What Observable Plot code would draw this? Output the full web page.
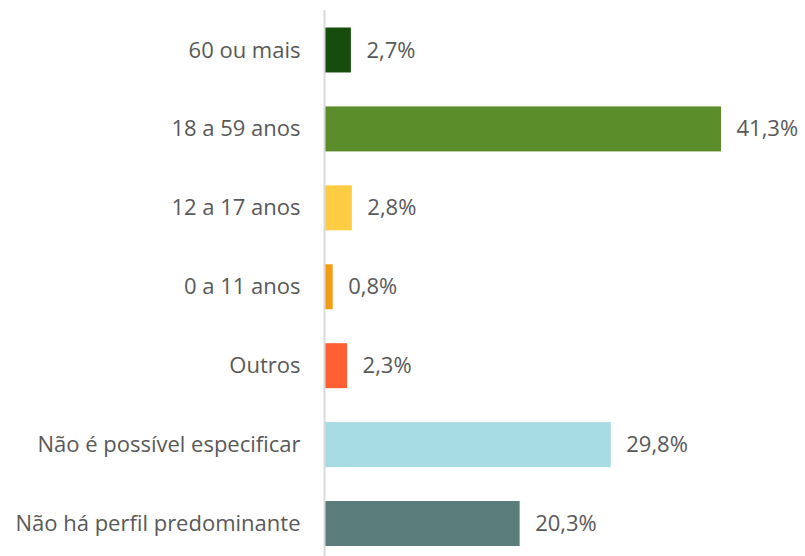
<!DOCTYPE html>
<html>
<head>
<meta charset="utf-8">
<script src="https://cdn.jsdelivr.net/npm/d3@7"></script>
<script src="https://cdn.jsdelivr.net/npm/@observablehq/plot@0.6"></script>
<style>
  html, body { margin: 0; padding: 0; background: #fff; }
  #chart svg { display: block; }
</style>
</head>
<body>
<div id="chart"></div>
<script>
const categories = [
  "60 ou mais",
  "18 a 59 anos",
  "12 a 17 anos",
  "0 a 11 anos",
  "Outros",
  "Não é possível especificar",
  "Não há perfil predominante"
];
const values = [2.7, 41.3, 2.8, 0.8, 2.3, 29.8, 20.3];
const colors = ["#174d0c", "#5b8c2a", "#ffcc44", "#f39c12", "#ff5f33", "#a6dbe4", "#5a7c7b"];

const data = categories.map((c, i) => ({category: c, value: values[i], color: colors[i]}));
const fmt = v => v.toFixed(1).replace(".", ",") + "%";
const font = "'Open Sans', 'Noto Sans', sans-serif";

const chart = Plot.plot({
  width: 805,
  height: 556,
  marginLeft: 325,
  marginRight: 84,
  marginTop: 10,
  marginBottom: 0,
  style: {fontFamily: font, fontSize: "22px", color: "#595959", background: "#fff"},
  x: {domain: [0, 41.3], axis: null},
  y: {domain: categories, range: [19.6, 553.9], round: false, paddingInner: 0.43, paddingOuter: 0.1, label: null, axis: null},
  marks: [
    Plot.barX(data, {y: "category", x: "value", fill: d => d.color}),
    Plot.ruleX([0], {stroke: "#d9d9d9", strokeWidth: 2, dx: -1}),
    Plot.text(data, {y: "category", x: "value", text: d => fmt(d.value), textAnchor: "start", dx: 15, fill: "#595959", fontSize: 22}),
    Plot.axisY({tickSize: 0, tickPadding: 25, fontSize: 22, fill: "#595959"})
  ]
});
document.getElementById("chart").appendChild(chart);
</script>
</body>
</html>
